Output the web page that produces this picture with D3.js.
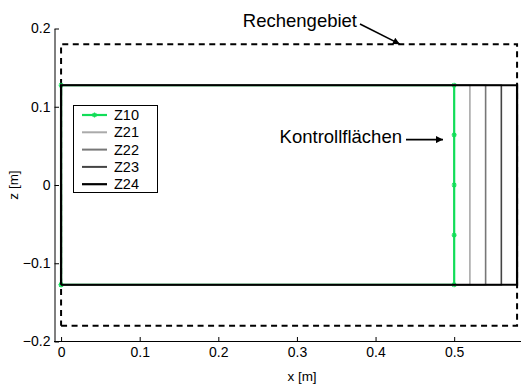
<!DOCTYPE html>
<html lang="de">
<head>
  <meta charset="UTF-8">
  <title>Rechengebiet</title>
  <script src="https://d3js.org/d3.v7.min.js"></script>
  <style>
    body { margin: 0; background: #fff; }
    svg { display: block; font-family: 'Liberation Sans', Arial, sans-serif; }
    .axis path, .axis line { stroke: #000; stroke-width: 1; }
    .axis text { font-size: 14px; fill: #000; }
  </style>
</head>
<body>
  <svg width="521" height="385"></svg>
  <script>
    // control surfaces
    const seriesNames = ["Z10", "Z21", "Z22", "Z23", "Z24"];
    const seriesX = [0.5, 0.52, 0.54, 0.56, 0.58];
    const halfHeight = 0.1275;
    // Z10 also carries points along its outlet edge
    const z10Z = [-0.1275, -0.064, 0, 0.064, 0.1275];
    // computational domain (dashed)
    const domainX = [0, 0.58];
    const domainZ = [-0.18, 0.18];
    const xTicks = [0, 0.1, 0.2, 0.3, 0.4, 0.5];
    const zTicks = [-0.2, -0.1, 0, 0.1, 0.2];

    const colors = { Z10: "#12dd58", Z21: "#aaaaaa", Z22: "#777777", Z23: "#444444", Z24: "#000000" };

    const svg = d3.select("svg");
    const x = d3.scaleLinear().domain([-0.009, 0.585]).range([54, 521]);
    const y = d3.scaleLinear().domain([-0.2, 0.2]).range([341.5, 28.5]);
    const fmt = d3.format(".1~f");

    svg.append("defs").append("marker")
      .attr("id", "arrow")
      .attr("viewBox", "0 0 10 10")
      .attr("refX", 10).attr("refY", 5)
      .attr("markerUnits", "userSpaceOnUse")
      .attr("markerWidth", 11).attr("markerHeight", 7)
      .attr("orient", "auto")
      .append("path").attr("d", "M0,0L10,5L0,10Z").attr("fill", "#000");

    // axes (box off, ticks pointing inward)
    svg.append("g").attr("class", "axis")
      .attr("transform", "translate(0,341.5)")
      .call(d3.axisBottom(x).tickValues(xTicks).tickFormat(fmt).tickSize(-4.5).tickSizeOuter(0).tickPadding(6))
      .call(g => g.select(".domain").attr("d", "M54,0H521"));
    svg.append("g").attr("class", "axis")
      .attr("transform", "translate(54.5,0)")
      .call(d3.axisLeft(y).tickValues(zTicks).tickFormat(fmt).tickSize(-4.5).tickSizeOuter(0).tickPadding(4));

    svg.append("text").attr("x", 302).attr("y", 381).attr("text-anchor", "middle")
      .attr("font-size", 13.5).text("x [m]");
    svg.append("text").attr("transform", "translate(18,185) rotate(-90)").attr("text-anchor", "middle")
      .attr("font-size", 13.5).text("z [m]");

    const line = d3.line().x(d => x(d[0])).y(d => y(d[1]));

    // dashed domain boundary
    svg.append("path")
      .attr("d", line([[domainX[0], domainZ[0]], [domainX[1], domainZ[0]], [domainX[1], domainZ[1]],
                       [domainX[0], domainZ[1]], [domainX[0], domainZ[0]]]))
      .attr("fill", "none").attr("stroke", "#000").attr("stroke-width", 2)
      .attr("stroke-dasharray", "6,4.5");

    function seriesPoints(i) {
      const xe = seriesX[i];
      if (i === 0) {
        return [[0, -halfHeight]].concat(z10Z.map(z => [xe, z]), [[0, halfHeight], [0, -halfHeight]]);
      }
      return [[0, -halfHeight], [xe, -halfHeight], [xe, halfHeight], [0, halfHeight], [0, -halfHeight]];
    }

    function star(g, px, py, c) {
      g.append("path")
        .attr("d", `M${px - 2.5},${py}H${px + 2.5}M${px},${py - 2.5}V${py + 2.5}M${px - 1.8},${py - 1.8}L${px + 1.8},${py + 1.8}M${px - 1.8},${py + 1.8}L${px + 1.8},${py - 1.8}`)
        .attr("stroke", c).attr("stroke-width", 1.1).attr("fill", "none");
    }

    seriesNames.forEach((name, i) => {
      const pts = seriesPoints(i);
      const g = svg.append("g");
      g.append("path").attr("d", line(pts)).attr("fill", "none")
        .attr("stroke", colors[name]).attr("stroke-width", i === 0 || i === 4 ? 2.2 : 1.6);
      if (i === 0) pts.forEach(p => star(g, x(p[0]), y(p[1]), colors[name]));
    });

    // legend
    const leg = svg.append("g");
    leg.append("rect").attr("x", 73.5).attr("y", 105.5).attr("width", 84).attr("height", 87)
      .attr("fill", "#fff").attr("stroke", "#000").attr("stroke-width", 1);
    seriesNames.forEach((name, i) => {
      const ly = 115 + i * 17.3;
      leg.append("line").attr("x1", 82).attr("x2", 107).attr("y1", ly).attr("y2", ly)
        .attr("stroke", colors[name]).attr("stroke-width", i === 0 || i === 4 ? 2.2 : 2);
      if (i === 0) star(leg, 94.5, ly, colors[name]);
      leg.append("text").attr("x", 114).attr("y", ly + 5).attr("font-size", 14.5).text(name);
    });

    // annotations
    svg.append("text").attr("x", 357).attr("y", 27).attr("text-anchor", "end")
      .attr("font-size", 18.5).text("Rechengebiet");
    svg.append("line")
      .attr("x1", 360).attr("y1", 24).attr("x2", x(0.431)).attr("y2", y(0.18))
      .attr("stroke", "#000").attr("stroke-width", 1.6).attr("marker-end", "url(#arrow)");

    svg.append("text").attr("x", 402).attr("y", 143).attr("text-anchor", "end")
      .attr("font-size", 18.5).text("Kontrollflächen");
    svg.append("line")
      .attr("x1", 406).attr("y1", y(0.058)).attr("x2", 443).attr("y2", y(0.058))
      .attr("stroke", "#000").attr("stroke-width", 1.6).attr("marker-end", "url(#arrow)");
  </script>
</body>
</html>
